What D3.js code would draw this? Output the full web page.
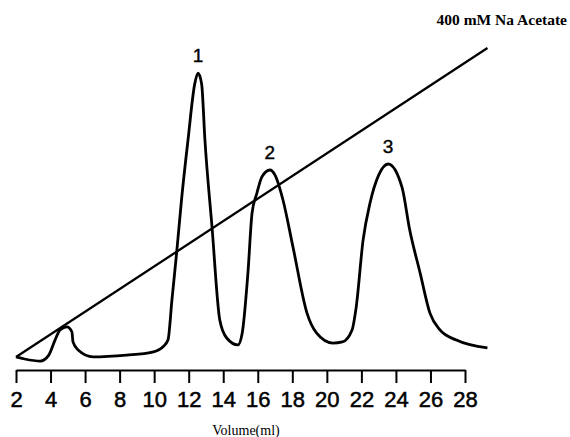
<!DOCTYPE html>
<html>
<head>
<meta charset="utf-8">
<script src="https://cdn.jsdelivr.net/npm/d3@7"></script>
<style>
  body { margin: 0; background: #fff; }
  svg { display: block; }
</style>
</head>
<body>
<svg id="chart" width="570" height="437"></svg>
<script>
// elution profile (volume in ml, absorbance in arbitrary units)
var volume = [2.0, 2.5, 3.4, 3.9, 4.26, 4.55, 4.95, 5.24, 5.3, 5.6, 6.46, 8.4, 9.9, 10.5, 10.8,
              11.03, 11.3, 11.6, 11.96, 12.35, 12.54, 12.75, 12.94, 13.35, 13.8, 14.2, 14.85,
              15.1, 15.43, 15.67, 15.95, 16.24, 16.7, 17.0, 17.46, 18.04, 18.85, 19.4, 20.35,
              20.9, 21.46, 21.7, 22.1, 22.5, 23.0, 23.55, 24.35, 24.8, 25.4, 25.97, 26.55, 27.5, 29.3];
var absorb = [1.7, 1.0, 0.3, 2.3, 7.3, 10.7, 11.7, 10.0, 6.7, 4.0, 1.7, 2.3, 3.3, 5.0, 7.3,
              20.7, 36.3, 55.0, 74.0, 92.7, 96.3, 92.7, 74.0, 45.0, 14.0, 8.0, 5.7,
              9.7, 29.7, 49.7, 56.3, 61.7, 64.0, 62.3, 54.0, 38.3, 16.3, 9.7, 6.3,
              6.7, 10.7, 18.3, 40.7, 53.0, 62.3, 66.0, 58.3, 44.0, 29.7, 16.3, 10.7, 7.3, 4.7];

// linear salt gradient
var gradVolume = [2.0, 29.3];
var gradConc = [0, 400];

var peakNames = ["1", "2", "3"];
var peakVolume = [12.54, 16.7, 23.55];
var peakHeight = [96.3, 64.0, 66.0];

var xTicks = [2, 4, 6, 8, 10, 12, 14, 16, 18, 20, 22, 24, 26, 28];

var svg = d3.select("svg#chart");

var x = d3.scaleLinear().domain([2, 28]).range([16, 465]);
var y = d3.scaleLinear().domain([0, 100]).range([362, 62]);
var yGrad = d3.scaleLinear().domain([0, 400]).range([357, 48]);

var trace = volume.map((v, i) => ({v: v, a: absorb[i]}));
var grad = gradVolume.map((v, i) => ({v: v, c: gradConc[i]}));

// gradient line
svg.append("path")
  .datum(grad)
  .attr("fill", "none")
  .attr("stroke", "#000")
  .attr("stroke-width", 2.3)
  .attr("d", d3.line().x(d => x(d.v)).y(d => yGrad(d.c)));

// chromatogram
svg.append("path")
  .datum(trace)
  .attr("fill", "none")
  .attr("stroke", "#000")
  .attr("stroke-width", 2.8)
  .attr("stroke-linejoin", "round")
  .attr("d", d3.line().curve(d3.curveMonotoneX).x(d => x(d.v)).y(d => y(d.a)));

// peak numbers
svg.append("g")
  .selectAll("text")
  .data(peakNames)
  .enter()
  .append("text")
  .attr("x", (d, i) => x(peakVolume[i]))
  .attr("y", (d, i) => y(peakHeight[i]) - 11)
  .attr("text-anchor", "middle")
  .attr("stroke", "#000")
  .attr("stroke-width", 0.4)
  .style("font-family", "'Liberation Sans', Arial, sans-serif")
  .style("font-size", "19px")
  .text(d => d);

// x axis
var axis = svg.append("g")
  .attr("transform", "translate(0,370)")
  .call(d3.axisBottom(x).tickValues(xTicks).tickSize(13).tickSizeOuter(0).tickFormat(d3.format("d")));
axis.select(".domain").attr("stroke-width", 2);
axis.selectAll(".tick line").attr("stroke-width", 2);
axis.selectAll(".tick text")
  .attr("y", 21)
  .attr("dy", "0.71em")
  .attr("stroke", "#000")
  .attr("stroke-width", 0.5)
  .style("font-family", "'Liberation Sans', Arial, sans-serif")
  .style("font-size", "22px")
  .attr("fill", "#000");

svg.append("text")
  .attr("x", 246)
  .attr("y", 435)
  .attr("text-anchor", "middle")
  .style("font-family", "'Liberation Serif', 'Times New Roman', serif")
  .style("font-size", "14px")
  .text("Volume(ml)");

svg.append("text")
  .attr("x", 567)
  .attr("y", 25)
  .attr("text-anchor", "end")
  .style("font-family", "'Liberation Serif', 'Times New Roman', serif")
  .style("font-weight", "bold")
  .style("font-size", "15.5px")
  .text("400 mM Na Acetate");
</script>
</body>
</html>
